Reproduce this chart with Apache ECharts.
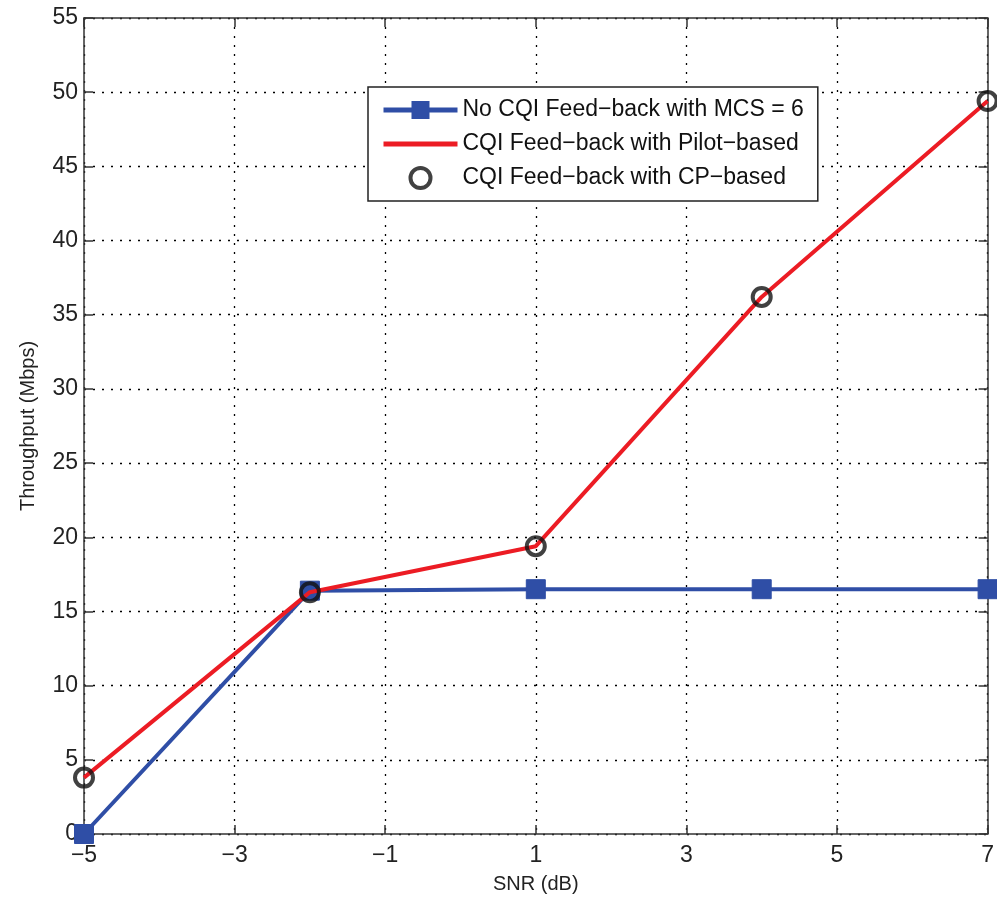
<!DOCTYPE html>
<html>
<head>
<meta charset="utf-8">
<script src="https://cdn.jsdelivr.net/npm/echarts@6/dist/echarts.min.js"></script>
<style>html,body{margin:0;padding:0;background:#fff}#c{width:997px;height:900px}</style>
</head>
<body>
<div id="c"></div>
<script>
const snr = [-5, -2, 1, 4, 7];
const noCqi = [0, 16.4, 16.5, 16.5, 16.5];
const pilotBased = [3.8, 16.3, 19.4, 36.2, 49.4];
const cpBased = [3.8, 16.3, 19.4, 36.2, 49.4];
const seriesNames = ['No CQI Feed\u2212back with MCS = 6', 'CQI Feed\u2212back with Pilot\u2212based', 'CQI Feed\u2212back with CP\u2212based'];
const xTitle = 'SNR (dB)';
const yTitle = 'Throughput (Mbps)';

const pts = (xs, ys) => xs.map((x, i) => [x, ys[i]]);
const font = 'Liberation Sans, Arial, sans-serif';
const minusFmt = v => String(v).replace('-', '\u2212');
const blue = '#2f4ea6', red = '#ec1c24';
const gridLine = {show: true, lineStyle: {color: '#000', type: [2, 7], width: 1.3}};
const axLine = {show: true, onZero: false, lineStyle: {color: '#333', width: 1.5}};
const axTick = {show: true, inside: true, length: 9, lineStyle: {color: '#333', width: 1.5}};
const chart = echarts.init(document.getElementById('c'));
chart.setOption({
  animation: false,
  backgroundColor: '#fff',
  grid: {left: 84, right: 6, top: 18, bottom: 66, show: false},
  legend: {
    orient: 'vertical', left: 368, top: 87,
    padding: [10, 14, 10, 13],
    backgroundColor: '#fff', borderColor: '#222', borderWidth: 1.5,
    itemWidth: 74, itemHeight: 20, itemGap: 8,
    textStyle: {fontFamily: font, fontSize: 23, color: '#111', lineHeight: 26},
    data: [
      {name: seriesNames[0], lineStyle: {width: 5, color: blue}, itemStyle: {color: blue}},
      {name: seriesNames[1], icon: 'path://M0,0 L74,0 L74,5 L0,5 Z', itemStyle: {color: red}},
      {name: seriesNames[2], icon: 'circle', itemStyle: {color: 'rgba(255,255,255,0)', borderColor: '#111', borderWidth: 4}}
    ]
  },
  xAxis: [{
    type: 'value', min: -5, max: 7, interval: 2,
    name: xTitle, nameLocation: 'middle', nameGap: 40,
    nameTextStyle: {fontFamily: font, fontSize: 20, color: '#222'},
    axisLine: axLine, axisTick: axTick,
    axisLabel: {fontFamily: font, fontSize: 23, color: '#222', margin: 10, formatter: minusFmt},
    splitLine: gridLine
  }, {
    type: 'value', min: -5, max: 7, interval: 2, position: 'top',
    axisLine: axLine, axisTick: axTick,
    axisLabel: {show: false}, splitLine: {show: false}
  }],
  yAxis: [{
    type: 'value', min: 0, max: 55, interval: 5,
    name: yTitle, nameLocation: 'middle', nameGap: 46,
    nameTextStyle: {fontFamily: font, fontSize: 20, color: '#222'},
    axisLine: axLine, axisTick: axTick,
    axisLabel: {fontFamily: font, fontSize: 23, color: '#222', margin: 6},
    splitLine: gridLine
  }, {
    type: 'value', min: 0, max: 55, interval: 5, position: 'right',
    axisLine: axLine, axisTick: axTick,
    axisLabel: {show: false}, splitLine: {show: false}
  }],
  series: [{
    name: seriesNames[0], type: 'line', data: pts(snr, noCqi),
    lineStyle: {color: blue, width: 4},
    itemStyle: {color: blue, borderColor: blue, borderWidth: 1},
    symbol: 'rect', symbolSize: 19, showSymbol: true, z: 2
  }, {
    name: seriesNames[1], type: 'line', data: pts(snr, pilotBased),
    lineStyle: {color: red, width: 4},
    itemStyle: {color: red},
    symbol: 'none', z: 3
  }, {
    name: seriesNames[2], type: 'scatter', data: pts(snr, cpBased),
    symbol: 'circle', symbolSize: 18,
    itemStyle: {color: 'rgba(255,255,255,0)', borderColor: '#111', borderWidth: 4},
    z: 4
  }]
});
</script>
</body>
</html>
